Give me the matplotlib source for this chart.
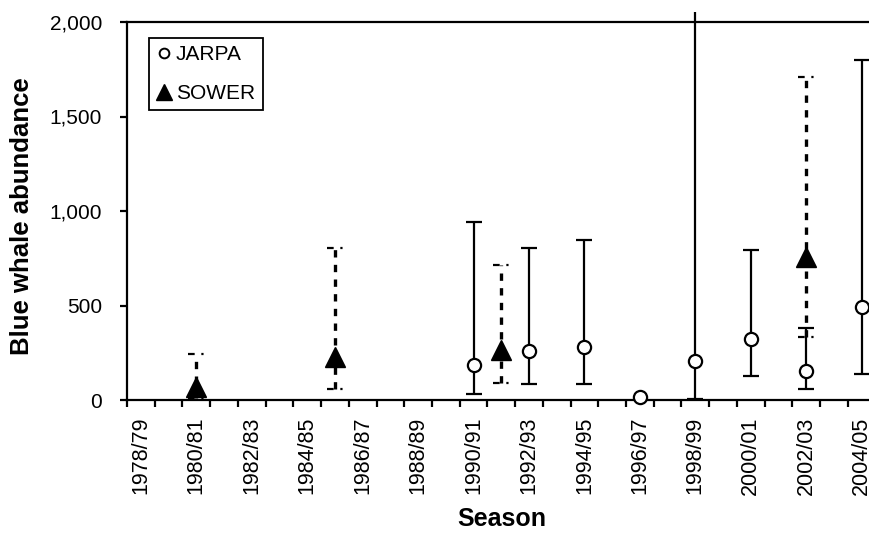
import matplotlib.pyplot as plt
from matplotlib.lines import Line2D
import numpy as np

plt.rcParams['font.family'] = ['Liberation Sans', 'DejaVu Sans']

# seasons on the category axis
seasons = ['1978/79', '1979/80', '1980/81', '1981/82', '1982/83', '1983/84',
           '1984/85', '1985/86', '1986/87', '1987/88', '1988/89', '1989/90',
           '1990/91', '1991/92', '1992/93', '1993/94', '1994/95', '1995/96',
           '1996/97', '1997/98', '1998/99', '1999/00', '2000/01', '2001/02',
           '2002/03', '2003/04', '2004/05']

# JARPA estimates with lower / upper bounds
jarpa_season = ['1990/91', '1992/93', '1994/95', '1996/97', '1998/99',
                '2000/01', '2002/03', '2004/05']
jarpa_est = [185, 260, 280, 16, 206, 323, 153, 492]
jarpa_low = [32, 85, 85, np.nan, 5, 127, 58, 138]
jarpa_high = [942, 804, 847, np.nan, 2400, 794, 381, 1799]

# SOWER estimates with lower / upper bounds
sower_season = ['1980/81', '1985/86', '1991/92', '2002/03']
sower_est = [69, 225, 265, 757]
sower_low = [10, 58, 90, 333]
sower_high = [243, 804, 714, 1709]

fig = plt.figure(figsize=(8.69, 5.36), dpi=100)
ax = fig.add_axes([127/869, 136/536, 748.5/869, 388/536])

xj = np.array([seasons.index(s) for s in jarpa_season])
xs = np.array([seasons.index(s) for s in sower_season])

je = np.array(jarpa_est, dtype=float)
yerr = [je - np.array(jarpa_low), np.array(jarpa_high) - je]
ax.errorbar(xj, je, yerr=yerr, fmt='none', ecolor='black', elinewidth=1.6,
            capsize=5.8, capthick=1.6, zorder=2)

# SOWER bars are dotted, caps too
ax.vlines(xs, sower_low, sower_high, colors='black', linewidth=2.4,
          linestyles=(0, (2.2, 2.2)), zorder=2)
ax.hlines(sower_low, xs - 0.3, xs + 0.3, colors='black', linewidth=1.6,
          linestyles=(0, (3, 3, 1, 3)), zorder=2)
ax.hlines(sower_high, xs - 0.3, xs + 0.3, colors='black', linewidth=1.6,
          linestyles=(0, (3, 3, 1, 3)), zorder=2)

ax.plot(xj, je, 'o', ms=9.5, mfc='white', mec='black', mew=1.6, zorder=4,
        clip_on=False)
ax.plot(xs, sower_est, '^', ms=15, color='black', zorder=5, clip_on=False)

ax.set_xlim(-0.5, 26.5)
ax.set_ylim(0, 2000 * 388 / 378)

# frame: top line at 2000, left axis only up to 2000
ax.spines['right'].set_visible(False)
ax.spines['top'].set_position(('data', 2000))
ax.spines['left'].set_bounds(0, 2000)
for sp in ['top', 'left', 'bottom']:
    ax.spines[sp].set_linewidth(1.6)

ax.set_yticks([0, 500, 1000, 1500, 2000])
ax.set_yticklabels(['0', '500', '1,000', '1,500', '2,000'])
ax.tick_params(axis='y', direction='out', length=5, width=1.6, pad=13,
               labelsize=15)

ax.set_xticks(np.arange(-0.5, 27, 1))
ax.set_xticklabels([])
ax.set_xticks(np.arange(0, 27, 2), minor=True)
ax.set_xticklabels(seasons[::2], minor=True, rotation=90)
ax.tick_params(axis='x', which='major', direction='out', length=5, width=1.6)
ax.tick_params(axis='x', which='minor', length=0, pad=12, labelsize=15.5)

ax.set_ylabel('Blue whale abundance', fontsize=18.5, fontweight='bold')
ax.yaxis.set_label_coords(22/869, 1 - 216/536, transform=fig.transFigure)
ax.set_xlabel('Season', fontsize=18, fontweight='bold')
ax.xaxis.set_label_coords(502/869, 1 - 519/536, transform=fig.transFigure)
ax.xaxis.label.set_va('center')
ax.yaxis.label.set_va('center')

handles = [Line2D([], [], marker='o', ls='none', ms=7, mfc='white',
                  mec='black', mew=1.4),
           Line2D([], [], marker='^', ls='none', ms=11, color='black')]
leg = ax.legend(handles, ['JARPA', 'SOWER'], loc='upper left',
                bbox_to_anchor=(149/869, 1 - 38/536),
                bbox_transform=fig.transFigure, fontsize=15, fancybox=False,
                edgecolor='black', framealpha=1, handlelength=0.7,
                handletextpad=0.25, borderpad=0.35, labelspacing=0.95,
                borderaxespad=0)
leg.get_frame().set_linewidth(1.3)

fig.savefig('out.png', dpi=100)
